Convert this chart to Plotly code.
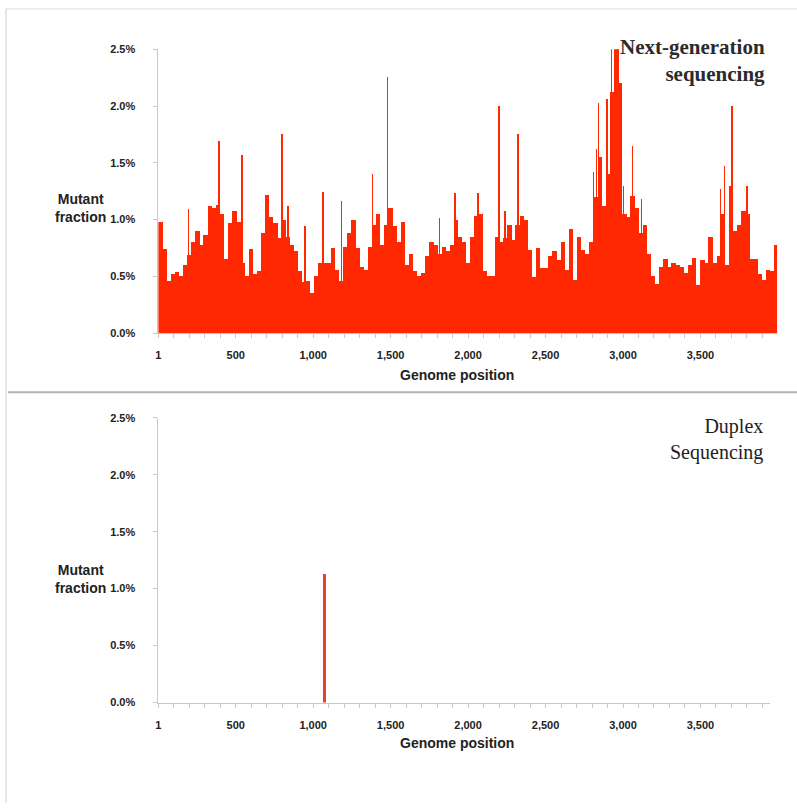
import numpy as np
import plotly.graph_objects as go

# ---------------- data ----------------
# Next-generation sequencing: mutant fraction (%) per genome bin (bin width 26.5 positions), from position 1
bin_width = 26.5
ngs_values = [
    0.98, 0.74, 0.46, 0.52, 0.54, 0.50, 0.60, 0.69, 0.80, 0.90,
    0.78, 0.86, 1.12, 1.10, 1.13, 1.05, 0.65, 0.97, 1.08, 0.98,
    0.62, 0.50, 0.74, 0.52, 0.55, 0.88, 1.22, 1.02, 0.97, 0.84,
    1.00, 0.85, 0.78, 0.72, 0.55, 0.45, 0.46, 0.35, 0.50, 0.62,
    0.62, 0.62, 0.75, 0.56, 0.46, 0.76, 0.88, 1.00, 0.75, 0.58,
    0.56, 0.76, 0.95, 1.05, 0.78, 0.95, 1.10, 0.94, 0.80, 0.98,
    0.60, 0.70, 0.55, 0.50, 0.53, 0.68, 0.80, 0.78, 0.70, 0.76,
    0.72, 0.78, 1.00, 0.85, 0.80, 0.62, 0.85, 1.03, 1.05, 0.55,
    0.50, 0.50, 0.85, 0.80, 0.84, 0.95, 0.82, 0.95, 1.03, 1.00,
    0.73, 0.49, 0.75, 0.57, 0.57, 0.68, 0.72, 0.64, 0.80, 0.56,
    0.92, 0.47, 0.85, 0.73, 0.70, 0.80, 1.20, 1.55, 1.12, 1.40,
    2.12, 2.50, 2.20, 1.05, 1.02, 1.21, 1.10, 0.88, 0.95, 0.70,
    0.50, 0.43, 0.58, 0.65, 0.58, 0.62, 0.60, 0.58, 0.53, 0.60,
    0.66, 0.42, 0.64, 0.62, 0.85, 0.62, 0.68, 1.05, 0.60, 1.30,
    0.90, 0.95, 1.08, 1.05, 0.65, 0.65, 0.52, 0.47, 0.56, 0.55,
    0.78,
]
ngs_bin_start = np.arange(len(ngs_values)) * bin_width + 1

# Isolated high single-position spikes in the NGS track
spike_positions = [194, 393, 541, 798, 837, 946, 1062, 1184, 1384, 1480,
                   1814, 1917, 2065, 2200, 2239, 2322, 2811, 2830, 2843, 2895,
                   2927, 2966, 3004, 3062, 3120, 3628, 3654, 3705, 3801]
spike_values = [1.09, 1.69, 1.57, 1.75, 1.12, 0.94, 1.24, 1.16, 1.40, 2.26,
                1.01, 1.23, 1.23, 2.00, 1.08, 1.75, 1.42, 1.62, 2.03, 2.06,
                2.50, 2.50, 1.30, 1.65, 1.18, 1.27, 1.47, 2.00, 1.30]

# Duplex sequencing: single detected mutation
duplex_positions = [1075]
duplex_values = [1.13]

# axes
y_ticks = [0.0, 0.5, 1.0, 1.5, 2.0, 2.5]
y_labels = ["0.0%", "0.5%", "1.0%", "1.5%", "2.0%", "2.5%"]
x_label_ticks = [1, 500, 1000, 1500, 2000, 2500, 3000, 3500]
x_label_text = ["1", "500", "1,000", "1,500", "2,000", "2,500", "3,000", "3,500"]
x_minor_ticks = list(range(100, 4000, 100))

# ---------------- figure ----------------
W, H = 797, 809
RED = "#ff2800"

fig = go.Figure()
fig.add_trace(go.Bar(x=ngs_bin_start + bin_width / 2, y=ngs_values, width=bin_width + 1.5,
                     marker=dict(color=RED, line=dict(width=0)),
                     xaxis="x", yaxis="y", showlegend=False))
fig.add_trace(go.Bar(x=spike_positions, y=spike_values, width=10,
                     marker=dict(color=RED, line=dict(width=0)),
                     xaxis="x", yaxis="y", showlegend=False))
fig.add_trace(go.Bar(x=duplex_positions, y=duplex_values, width=18,
                     marker=dict(color="#e8402a", line=dict(width=0)),
                     xaxis="x2", yaxis="y2", showlegend=False))

tv = sorted(set(x_label_ticks + x_minor_ticks))
tt = [x_label_text[x_label_ticks.index(v)] if v in x_label_ticks else "" for v in tv]

tickfont = dict(family="Liberation Sans, Arial, sans-serif", size=11, color="#222", weight="bold")
axcol = "#c8c8c8"

def xax(domain, rng):
    return dict(domain=domain, range=rng, tickmode="array", tickvals=tv, ticktext=tt,
                showline=True, linecolor=axcol, linewidth=1, ticks="outside", ticklen=4,
                tickcolor=axcol, showgrid=False, zeroline=False, tickfont=tickfont,
                ticklabelstandoff=8, fixedrange=True)

def yax(domain, anchor):
    return dict(domain=domain, range=[0, 2.5], tickmode="array", tickvals=y_ticks,
                ticktext=y_labels, showline=True, linecolor=axcol, linewidth=1,
                ticks="outside", ticklen=4, tickcolor=axcol, showgrid=False,
                zeroline=False, tickfont=tickfont, anchor=anchor, ticklabelstandoff=16,
                fixedrange=True)

px_per_unit = 0.1555
x_left = 156
top_right = 777
bot_right = 770

fig.update_layout(
    width=W, height=H, margin=dict(l=0, r=0, t=0, b=0),
    paper_bgcolor="white", plot_bgcolor="white",
    barmode="overlay", bargap=0, hovermode=False,
    xaxis=dict(**xax([x_left / W, top_right / W], [1, 1 + (top_right - x_left) / px_per_unit]), anchor="y"),
    yaxis=yax([(H - 332) / H, (H - 44) / H], "x"),
    xaxis2=dict(**xax([x_left / W, bot_right / W], [1, 1 + (bot_right - x_left) / px_per_unit]), anchor="y2"),
    yaxis2=yax([(H - 707) / H, (H - 418) / H], "x2"),
)

lab_font = dict(family="Liberation Sans, Arial, sans-serif", size=14, color="#222", weight="bold")
title_font = dict(family="Liberation Serif, Times New Roman, serif", size=21, color="#2b2b2b", weight="bold")
title2_font = dict(family="Liberation Serif, Times New Roman, serif", size=20, color="#1e1e1e")

ann = [
    dict(text="Mutant<br>fraction", x=78, y=205, font=lab_font, anchor="center", align="center"),
    dict(text="Mutant<br>fraction", x=78, y=582, font=lab_font, anchor="center", align="center"),
    dict(text="Genome position", x=456, y=375, font=lab_font, anchor="center", align="center"),
    dict(text="Genome position", x=456, y=748, font=lab_font, anchor="center", align="center"),
    dict(text="Next-generation<br>sequencing", x=767, y=55, font=title_font, anchor="right", align="right"),
    dict(text="Duplex<br>Sequencing", x=765, y=440, font=title2_font, anchor="right", align="right"),
]
for a in ann:
    fig.add_annotation(text=a["text"], x=a["x"] / W, y=(H - a["y"]) / H, xref="paper", yref="paper",
                       xanchor=a["anchor"], yanchor="middle", showarrow=False, align=a["align"],
                       font=a["font"])

shapes = [
    dict(type="line", x0=3 / W, x1=3 / W, y0=0, y1=(H - 3) / H, line=dict(color="#cfcfcf", width=1)),
    dict(type="line", x0=3 / W, x1=1, y0=(H - 3) / H, y1=(H - 3) / H, line=dict(color="#dcdcdc", width=1)),
    dict(type="line", x0=5 / W, x1=1, y0=(H - 392) / H, y1=(H - 392) / H, line=dict(color="#b4b4b4", width=2)),
]
for s in shapes:
    fig.add_shape(xref="paper", yref="paper", **s)

fig.write_html("out.html", config={"displayModeBar": False, "staticPlot": True},
               post_script="document.body.style.margin='0';document.body.style.overflow='hidden';"
                           "document.documentElement.style.overflow='hidden';")
